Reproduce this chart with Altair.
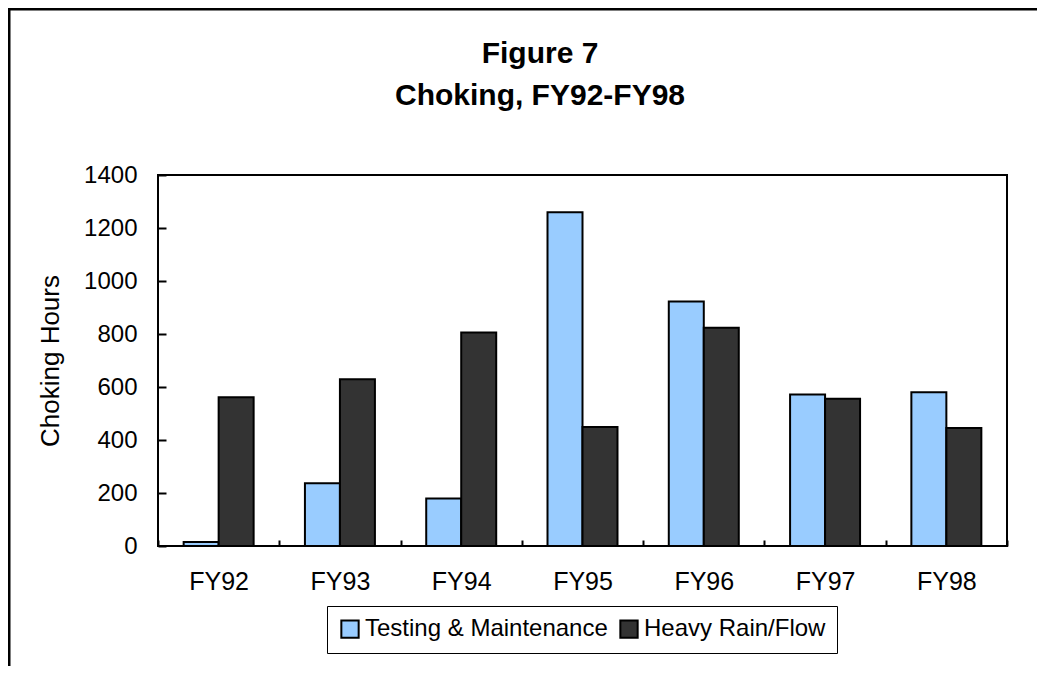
import altair as alt
import pandas as pd

years = ["FY92", "FY93", "FY94", "FY95", "FY96", "FY97", "FY98"]
testing = [15, 237, 179, 1259, 923, 572, 580]
heavy = [561, 629, 806, 449, 824, 556, 445]
series = ["Testing & Maintenance", "Heavy Rain/Flow"]
colors = ["#99CCFF", "#333333"]

rows = []
for y, t, h in zip(years, testing, heavy):
    rows.append({"year": y, "series": series[0], "hours": t})
    rows.append({"year": y, "series": series[1], "hours": h})
df = pd.DataFrame(rows)

FONT = "Liberation Sans"
W, H = 849, 371

bars = alt.Chart(df).mark_bar(stroke="black", strokeWidth=2).encode(
    x=alt.X("year:N", sort=years, title=None,
            scale=alt.Scale(paddingInner=0, paddingOuter=0),
            axis=alt.Axis(labelAngle=0, labelFontSize=25, labelFont=FONT, labelColor="black",
                          tickBand="extent", tickSize=6, offset=-6, domain=False,
                          tickColor="black", tickWidth=2, labelPadding=23)),
    xOffset=alt.XOffset("series:N", sort=series,
                        scale=alt.Scale(paddingInner=0, paddingOuter=0.733)),
    y=alt.Y("hours:Q", title="Choking Hours",
            scale=alt.Scale(domain=[0, 1400], nice=False),
            axis=alt.Axis(values=list(range(0, 1401, 200)), format="d", labelFontSize=24,
                          labelFont=FONT, labelColor="black", tickSize=8, offset=-8, domain=False,
                          tickColor="black", tickWidth=2, labelPadding=21, grid=False,
                          titleFontSize=26, titleFont=FONT, titleFontWeight="normal",
                          titleColor="black", titlePadding=20)),
    color=alt.Color("series:N", sort=series,
                    scale=alt.Scale(domain=series, range=colors),
                    legend=alt.Legend(title=None, orient="none", legendX=169, legendY=431,
                                      direction="horizontal", labelFontSize=24, labelFont=FONT,
                                      labelColor="black", labelLimit=0, symbolType="square",
                                      symbolSize=300, symbolStrokeColor="black",
                                      symbolStrokeWidth=2, strokeColor="black", padding=11,
                                      columnPadding=8, labelOffset=3, fillColor="white")),
)

title1 = alt.Chart(pd.DataFrame({"t": ["Figure 7"]})).mark_text(
    font=FONT, fontSize=30, fontWeight="bold", color="black", align="center", baseline="alphabetic"
).encode(text="t:N", x=alt.value(382), y=alt.value(-112))

title2 = alt.Chart(pd.DataFrame({"t": ["Choking, FY92-FY98"]})).mark_text(
    font=FONT, fontSize=30, fontWeight="bold", color="black", align="center", baseline="alphabetic"
).encode(text="t:N", x=alt.value(382), y=alt.value(-70))

frame_left = alt.Chart(pd.DataFrame({"a": [0]})).mark_rule(color="black", strokeWidth=3).encode(
    x=alt.value(-149), y=alt.value(-167), y2=alt.value(H + 130))
frame_top = alt.Chart(pd.DataFrame({"a": [0]})).mark_rule(color="black", strokeWidth=3).encode(
    x=alt.value(-150), x2=alt.value(W + 40), y=alt.value(-166))

chart = alt.layer(bars, title1, title2, frame_left, frame_top).properties(
    width=W, height=H,
    autosize=alt.AutoSizeParams(type="none"),
    padding={"left": 150, "top": 167, "right": 30, "bottom": 120},
    background="white",
).configure_view(stroke="black", strokeWidth=2)

chart.save("out.html", embed_options={"renderer": "svg", "actions": False})
